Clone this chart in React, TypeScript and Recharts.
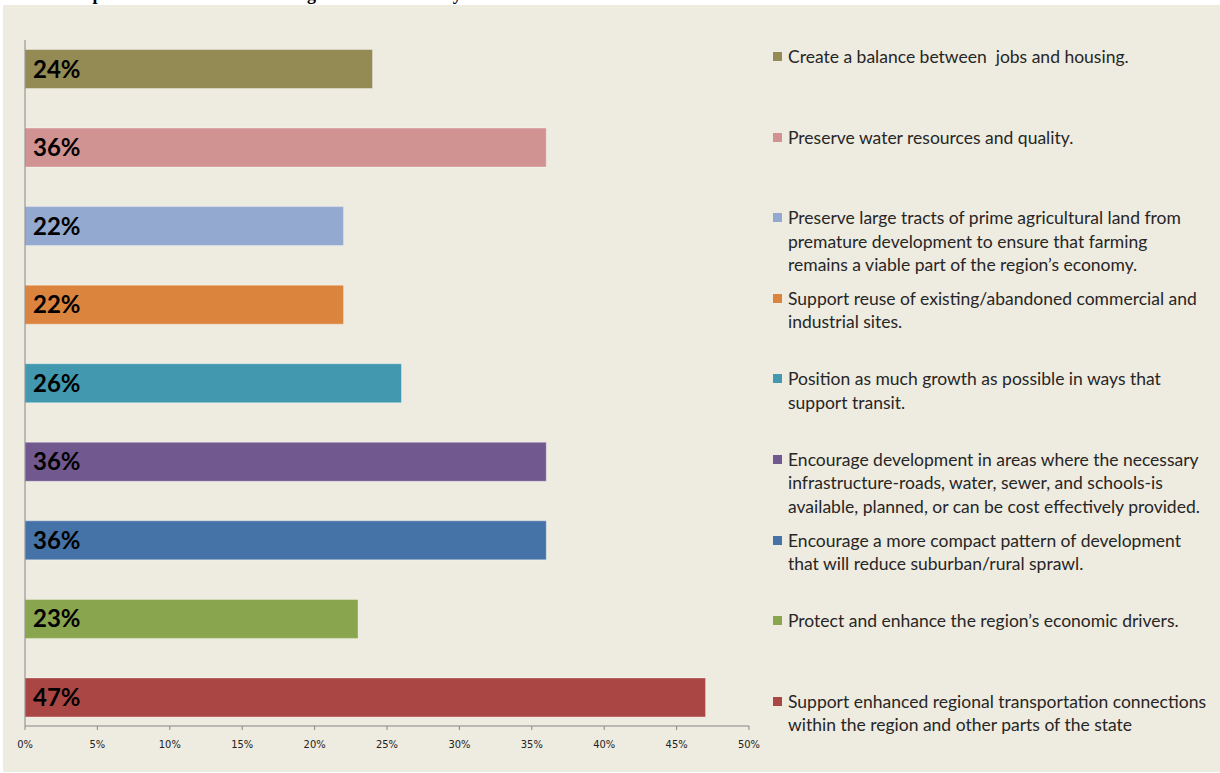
import React from "react";
import { BarChart, Bar, XAxis, YAxis, Cell, LabelList } from "recharts";

// priorities, top to bottom (line breaks follow the legend in the original)
const categories = [
  "Create a balance between  jobs and housing.",
  "Preserve water resources and quality.",
  "Preserve large tracts of prime agricultural land from\npremature development to ensure that farming\nremains a viable part of the region’s economy.",
  "Support reuse of existing/abandoned commercial and\nindustrial sites.",
  "Position as much growth as possible in ways that\nsupport transit.",
  "Encourage development in areas where the necessary\ninfrastructure-roads, water, sewer, and schools-is\navailable, planned, or can be cost effectively provided.",
  "Encourage a more compact pattern of development\nthat will reduce suburban/rural sprawl.",
  "Protect and enhance the region’s economic drivers.",
  "Support enhanced regional transportation connections\nwithin the region and other parts of the state",
];

const values = [24, 36, 22, 22, 26, 36, 36, 23, 47];

const colors = [
  "#948A54",
  "#D19392",
  "#93A9CF",
  "#DB843D",
  "#4198AF",
  "#71588F",
  "#4572A7",
  "#89A54E",
  "#AA4643",
];

const xTicks = [0, 5, 10, 15, 20, 25, 30, 35, 40, 45, 50];

const title = "Most Important Elements for the Region in the next 20 years";

const data = categories.map((name, i) => ({ name, value: values[i] }));

const LegendBlock = () => (
  <div
    style={{
      position: "absolute",
      left: 772,
      top: 45,
      width: 448,
      fontFamily: "Lato, 'Open Sans', sans-serif",
      fontSize: 17.5,
      lineHeight: "23.5px",
      color: "#262626",
    }}
  >
    {categories.map((c, i) => (
      <div key={i} style={{ position: "relative", height: 80.6 }}>
        <div
          style={{
            position: "absolute",
            left: 1,
            top: 7,
            width: 9,
            height: 9,
            background: colors[i],
          }}
        />
        <div style={{ position: "absolute", left: 16, top: 0, whiteSpace: "pre" }}>
          {c}
        </div>
      </div>
    ))}
  </div>
);

export default function App() {
  return (
    <div style={{ position: "absolute", left: 0, top: 0, width: 1220, height: 773, overflow: "hidden", background: "#fff" }}>
      <div
        style={{
          position: "absolute",
          left: 27,
          top: -16,
          fontFamily: "'Liberation Serif', serif",
          fontWeight: "bold",
          fontSize: 18,
          lineHeight: "20px",
          whiteSpace: "nowrap",
          color: "#000",
        }}
      >
        {title}
      </div>
      <div
        style={{
          position: "absolute",
          left: 3,
          top: 5,
          width: 1217,
          height: 767,
          background: "#EEEBE0",
        }}
      />
      <div style={{ position: "absolute", left: 0, top: 0 }}>
        <BarChart
          width={1220}
          height={773}
          data={data}
          layout="vertical"
          margin={{ top: 40, right: 471, left: 24, bottom: 17 }}
        >
          <XAxis
            type="number"
            domain={[0, 50]}
            ticks={xTicks}
            interval={0}
            tickFormatter={(v) => `${v}%`}
            height={30}
            tickSize={4}
            tickMargin={10}
            stroke="#868686"
            tick={{ fontSize: 11, fill: "#222", fontFamily: "'DejaVu Sans Condensed', 'DejaVu Sans', sans-serif" }}
          />
          <YAxis
            type="category"
            dataKey="name"
            width={1}
            tick={false}
            tickLine={false}
            stroke="#868686"
            padding={{ top: -10.5, bottom: -10.5 }}
          />
          <Bar dataKey="value" barSize={39} isAnimationActive={false}>
            {data.map((d, i) => (
              <Cell key={i} fill={colors[i]} stroke="rgba(255,255,255,0.35)" strokeWidth={1} />
            ))}
            <LabelList
              dataKey="value"
              position="insideLeft"
              offset={8}
              formatter={(v: number) => `${v}%`}
              style={{ fontSize: 24, fontWeight: "bold", fill: "#000", fontFamily: "Lato, sans-serif" }}
            />
          </Bar>
        </BarChart>
      </div>
      <LegendBlock />
    </div>
  );
}
